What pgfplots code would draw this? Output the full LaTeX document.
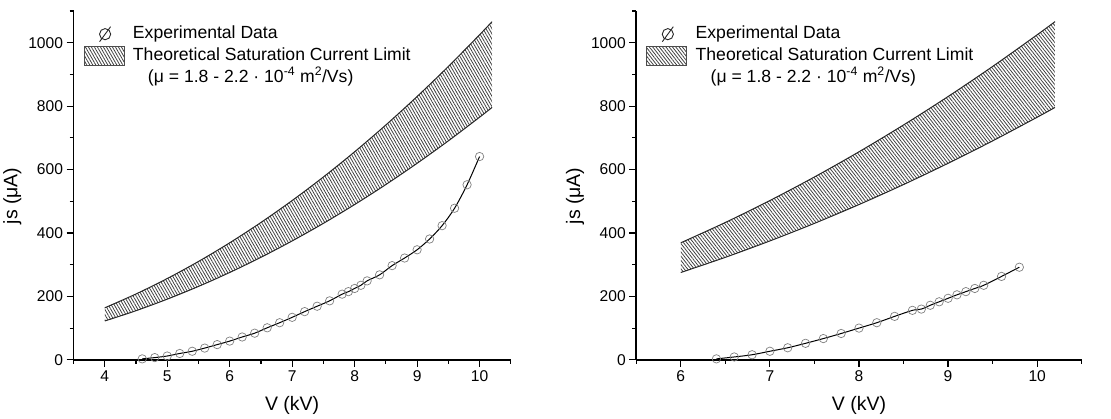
\documentclass[border=0pt]{standalone}
\usepackage{fontspec}
\setmainfont{Liberation Sans}
\usepackage{pgfplots}
\usepackage{pgfplotstable}
\pgfplotsset{compat=1.18}
\usepgfplotslibrary{fillbetween}
\usetikzlibrary{patterns.meta}

% measured current density, low-voltage sample
\pgfplotstableread{
V js
4.6 3
4.8 7
5.0 12
5.2 20
5.4 27
5.6 37
5.8 48
6.0 59
6.2 72
6.4 84
6.6 101
6.8 117
7.0 134
7.2 152
7.4 169
7.6 186
7.8 207
7.9 215
8.0 225
8.1 235
8.2 249
8.4 268
8.6 297
8.8 321
9.0 347
9.2 381
9.4 423
9.6 478
9.8 552
10.0 641
}\expleft

% measured current density, high-voltage sample
\pgfplotstableread{
V js
6.4 3
6.6 9
6.8 16
7.0 27
7.2 38
7.4 52
7.6 67
7.8 83
8.0 100
8.2 117
8.4 137
8.6 156
8.7 160
8.8 172
8.9 183
9.0 194
9.1 205
9.2 215
9.3 225
9.4 235
9.6 263
9.8 292
}\expright

% saturation current limits (upper / lower mobility)
\pgfplotstableread{
V up lo
4.0 164.0 122.4
4.5 207.6 154.9
5.0 256.3 191.3
5.5 310.1 231.4
6.0 369.0 275.4
6.5 433.1 323.2
7.0 502.3 374.9
7.5 576.6 430.3
8.0 656.0 489.6
8.5 740.6 552.7
9.0 830.3 619.7
9.5 925.1 690.4
10.0 1025.0 765.0
10.2 1066.4 795.9
}\bandleft

\pgfplotstableread{
V up lo
6.0 369.0 275.4
6.5 433.1 323.2
7.0 502.3 374.9
7.5 576.6 430.3
8.0 656.0 489.6
8.5 740.6 552.7
9.0 830.3 619.7
9.5 925.1 690.4
10.0 1025.0 765.0
10.2 1066.4 795.9
}\bandright

\tikzset{
  hatch/.style={pattern={Lines[angle=#1, distance=2.6bp, line width=0.8bp]},
    pattern color=black!75},
}

\pgfplotsset{
  jsaxis/.style={
    scale only axis, height=349bp,
    ymin=0, ymax=1100,
    axis lines=left,
    axis line style={-, line width=1.6bp, black},
    tick align=outside,
    major tick length=7bp, minor tick length=4bp,
    tick style={line width=1.2bp, black},
    ytick={0,200,...,1000},
    minor ytick={100,300,...,1100},
    /pgf/number format/assume math mode=true,
    /pgf/number format/1000 sep={},
    tick label style={font=\fontsize{15.6bp}{18bp}\selectfont},
    label style={font=\fontsize{19.5bp}{23bp}\selectfont},
    xlabel={V (kV)}, ylabel={js (μA)},
    xlabel style={yshift=-8bp},
    ylabel style={at={(ticklabel cs:0.47)}},
    legend cell align=left,
    legend style={draw=none, fill=none,
      at={(rel axis cs:0,1)}, anchor=north west,
      xshift=10bp, yshift=-12bp,
      inner sep=0pt, row sep=0bp,
      /tikz/every odd column/.append style={column sep=6bp},
      nodes={inner sep=2.5bp, text height=12.5bp, text depth=4.5bp,
             font=\fontsize{17.6bp}{20bp}\selectfont}},
  },
  datline/.style={black, line width=1bp, smooth},
  datmarks/.style={only marks, mark=o, mark size=4.2bp,
    mark options={draw=black!50, line width=0.7bp}},
  bandedge/.style={black!85, line width=1bp, smooth},
}

\newcommand{\addlegendblock}[1]{%
  \addlegendimage{legend image code/.code={
      \path[draw=none] (0,0) -- (40bp,0);
      \draw[black!85, line width=0.9bp] (21bp,0) circle (5.6bp);
      \draw[black!85, line width=0.9bp] (15.5bp,-7.5bp) -- (26.5bp,7.5bp);}}
  \addlegendentry{Experimental Data}
  \addlegendimage{legend image code/.code={
      \draw[black!70, line width=0.8bp, hatch=#1]
        (0,-9.3bp) rectangle (40bp,9.3bp);}}
  \addlegendentry{Theoretical Saturation Current Limit}
  \addlegendimage{empty legend}
  \addlegendentry{\hspace*{15bp}(μ = 1.8 - 2.2 · 10\textsuperscript{-4} m\textsuperscript{2}/Vs)}
}

\begin{document}
\begin{tikzpicture}
% page frame
\path (0,0) rectangle (1111bp,419bp);

% ---- left panel ----
\begin{axis}[jsaxis, at={(73bp,59bp)}, anchor=south west,
  width=437.5bp, xmin=3.5, xmax=10.5,
  xtick={4,...,10}, minor xtick={3.5,4.5,...,10.5}]
  \addlegendblock{-60}
  \addplot[bandedge, name path=upL, forget plot] table[x=V, y=up] {\bandleft};
  \addplot[bandedge, name path=loL, forget plot] table[x=V, y=lo] {\bandleft};
  \addplot[draw=none, forget plot, hatch=-60] fill between[of=upL and loL];
  \addplot[datline, forget plot] table[x=V, y=js] {\expleft};
  \addplot[datmarks, forget plot] table[x=V, y=js] {\expleft};
\end{axis}

% ---- right panel ----
\begin{axis}[jsaxis, at={(636bp,59bp)}, anchor=south west,
  width=445.7bp, xmin=5.5, xmax=10.5,
  xtick={6,...,10}, minor xtick={5.5,6.5,...,10.5}]
  \addlegendblock{-52}
  \addplot[bandedge, name path=upR, forget plot] table[x=V, y=up] {\bandright};
  \addplot[bandedge, name path=loR, forget plot] table[x=V, y=lo] {\bandright};
  \addplot[draw=none, forget plot, hatch=-52] fill between[of=upR and loR];
  \addplot[datline, forget plot] table[x=V, y=js] {\expright};
  \addplot[datmarks, forget plot] table[x=V, y=js] {\expright};
\end{axis}
\end{tikzpicture}
\end{document}
